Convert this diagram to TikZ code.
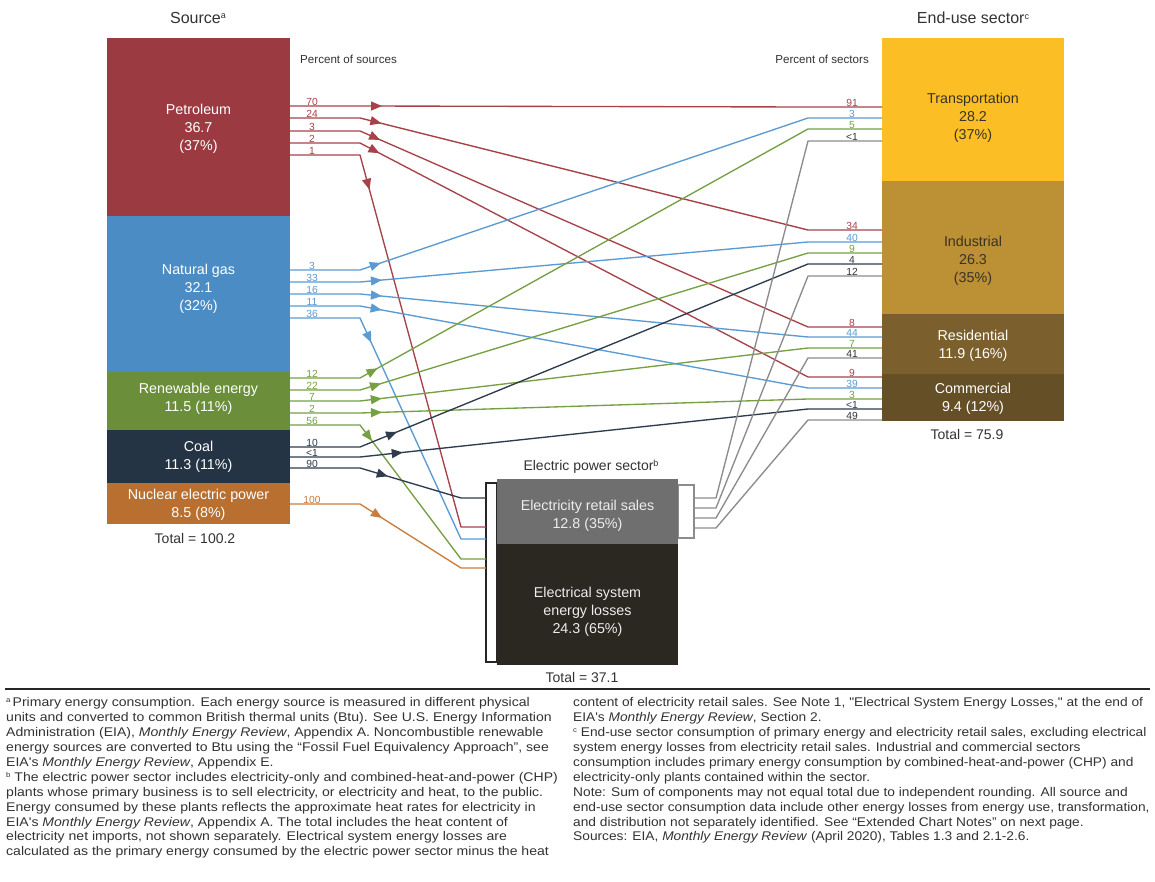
\documentclass[tikz,border=0pt]{standalone}
\usepackage{fontspec}
\setmainfont{Liberation Sans}
\newfontfamily\footfont[FakeStretch=1.09]{Liberation Sans}
\newfontfamily\footfontL[FakeStretch=1.115]{Liberation Sans}
\usetikzlibrary{arrows.meta,decorations.markings}
\definecolor{petc}{HTML}{9B3B41}
\definecolor{petl}{HTML}{A6434A}
\definecolor{gasc}{HTML}{4A8CC3}
\definecolor{gasl}{HTML}{5A9BD3}
\definecolor{renc}{HTML}{6A8E3A}
\definecolor{renl}{HTML}{76A042}
\definecolor{coalc}{HTML}{253444}
\definecolor{coall}{HTML}{2E3C4E}
\definecolor{nucc}{HTML}{B86F2F}
\definecolor{nucl}{HTML}{C97D3C}
\definecolor{grayl}{HTML}{8C8C8C}
\definecolor{trac}{HTML}{FBBF25}
\definecolor{indc}{HTML}{BC9034}
\definecolor{resc}{HTML}{7B602D}
\definecolor{comc}{HTML}{654F27}
\definecolor{retc}{HTML}{6F6F6F}
\definecolor{losc}{HTML}{2B2721}
\definecolor{txtd}{HTML}{333333}
\definecolor{txtb}{HTML}{3A3226}
\newcommand{\mysup}[1]{\raisebox{0.55ex}{\fontsize{9}{9}\selectfont #1}}
\newcommand{\fnsup}[1]{\raisebox{0.6ex}{\fontsize{7}{7}\selectfont #1}}
\tikzset{
  flow/.style={line width=1.35pt, line join=round},
  tipat/.style={postaction={decorate,decoration={markings,mark=at position #1pt with {\arrow{Triangle[length=11pt,width=9pt]}}}}},
  box/.style={draw=none, inner sep=0pt, outer sep=0pt, anchor=north west},
  boxtxt/.style={align=center, font=\fontsize{14.3}{18}\selectfont, inner sep=0pt},
  title/.style={font=\fontsize{16}{18}\selectfont, text=txtd, inner sep=0pt},
  small/.style={font=\fontsize{11.6}{14}\selectfont, text=txtd, inner sep=0pt},
  tot/.style={font=\fontsize{14}{16}\selectfont, text=txtd, inner sep=0pt},
  slab/.style={anchor=south, inner sep=0.6pt, font=\fontsize{10.3}{10.3}\selectfont},
  foot/.style={anchor=north west, align=left, inner sep=0pt, text=txtd, font=\footfont\fontsize{12.6}{14.9}\selectfont}
}
\begin{document}
\begin{tikzpicture}[x=1pt,y=-1pt]
\useasboundingbox[fill=white] (0,0) rectangle (1155,882);

% ---------- bend columns ----------
\coordinate (bendL) at (360,0);
\coordinate (bendR) at (808,0);
\coordinate (bendE) at (461,0);
\coordinate (bendG) at (716,0);

% ---------- source ports ----------
\coordinate (sP1) at (290,106); \coordinate (sP2) at (290,118); \coordinate (sP3) at (290,131);
\coordinate (sP4) at (290,143); \coordinate (sP5) at (290,155);
\coordinate (sG1) at (290,270); \coordinate (sG2) at (290,282); \coordinate (sG3) at (290,294);
\coordinate (sG4) at (290,306); \coordinate (sG5) at (290,318);
\coordinate (sR1) at (290,378); \coordinate (sR2) at (290,390); \coordinate (sR3) at (290,401);
\coordinate (sR4) at (290,413); \coordinate (sR5) at (290,425);
\coordinate (sC1) at (290,447); \coordinate (sC2) at (290,457); \coordinate (sC3) at (290,468);
\coordinate (sN1) at (290,504);

% ---------- target ports ----------
\coordinate (tT1) at (882,107); \coordinate (tT2) at (882,118); \coordinate (tT3) at (882,129); \coordinate (tT4) at (882,141);
\coordinate (tI1) at (882,230); \coordinate (tI2) at (882,242); \coordinate (tI3) at (882,253); \coordinate (tI4) at (882,264); \coordinate (tI5) at (882,276);
\coordinate (tR1) at (882,327); \coordinate (tR2) at (882,337); \coordinate (tR3) at (882,348); \coordinate (tR4) at (882,358);
\coordinate (tC1) at (882,377); \coordinate (tC2) at (882,388); \coordinate (tC3) at (882,399); \coordinate (tC4) at (882,409); \coordinate (tC5) at (882,420);

% ---------- electric ports ----------
\coordinate (eC) at (486,498); \coordinate (eP) at (486,527); \coordinate (eG) at (486,539);
\coordinate (eR) at (486,559); \coordinate (eN) at (486,568);
\coordinate (x1) at (694,498); \coordinate (x2) at (694,508); \coordinate (x3) at (694,518); \coordinate (x4) at (694,528);

% ---------- titles ----------
\node[title] (srcT) at (198,18) {Source\mysup{a}};
\node[title] (endT) at (973,18) {End-use sector\mysup{c}};
\node[title, font=\fontsize{14}{16}\selectfont] (elT) at (591,467) {Electric power sector\mysup{b}};
\node[small, anchor=west] (pcs) at (300,59) {Percent of sources};
\node[small, anchor=east] (pct) at (869,59) {Percent of sectors};

% ---------- source boxes ----------
\node[box, fill=petc, minimum width=183pt, minimum height=178pt] (pet) at (107,38) {};
\node[box, fill=gasc, minimum width=183pt, minimum height=156pt] (gas) at (107,216) {};
\node[box, fill=renc, minimum width=183pt, minimum height=58pt] (ren) at (107,372) {};
\node[box, fill=coalc, minimum width=183pt, minimum height=53pt] (coal) at (107,430) {};
\node[box, fill=nucc, minimum width=183pt, minimum height=41pt] (nuc) at (107,483) {};
\node[boxtxt, text=white] (petL) at (198.5,129) {Petroleum\\36.7\\(37\%)};
\node[boxtxt, text=white] (gasL) at (198.5,289) {Natural gas\\32.1\\(32\%)};
\node[boxtxt, text=white] (renL) at (198.5,399) {Renewable energy\\11.5 (11\%)};
\node[boxtxt, text=white] (coalL) at (198.5,457) {Coal\\11.3 (11\%)};
\node[boxtxt, text=white] (nucL) at (198.5,504.5) {Nuclear electric power\\8.5 (8\%)};
\node[tot] (srcTot) at (195,538) {Total = 100.2};

% ---------- end-use boxes ----------
\node[box, fill=trac, minimum width=182pt, minimum height=143pt] (tra) at (882,38) {};
\node[box, fill=indc, minimum width=182pt, minimum height=133pt] (ind) at (882,181) {};
\node[box, fill=resc, minimum width=182pt, minimum height=60pt] (res) at (882,314) {};
\node[box, fill=comc, minimum width=182pt, minimum height=47pt] (com) at (882,374) {};
\node[boxtxt, text=txtb] (traL) at (973,117.5) {Transportation\\28.2\\(37\%)};
\node[boxtxt, text=txtb] (indL) at (973,261) {Industrial\\26.3\\(35\%)};
\node[boxtxt, text=white] (resL) at (973,345.5) {Residential\\11.9 (16\%)};
\node[boxtxt, text=white] (comL) at (973,398.5) {Commercial\\9.4 (12\%)};
\node[tot] (endTot) at (967,434) {Total = 75.9};

% ---------- electric power sector ----------
\node[box, draw=black!85, line width=1.2pt, fill=white, minimum width=11pt, minimum height=179pt] (lbr) at (486,483) {};
\node[box, draw=grayl, line width=1.2pt, fill=white, minimum width=16pt, minimum height=53pt] (rbr) at (678,485) {};
\node[box, fill=retc, minimum width=181pt, minimum height=65pt] (ret) at (497,479) {};
\node[box, fill=losc, minimum width=181pt, minimum height=121pt] (los) at (497,544) {};
\node[boxtxt, text=white!93!black] (retL) at (587.5,516) {Electricity retail sales\\12.8 (35\%)};
\node[boxtxt, text=white!93!black] (losL) at (587.5,611.5) {Electrical system\\energy losses\\24.3 (65\%)};
\node[tot] (elTot) at (582,677) {Total = 37.1};

% ---------- flows: petroleum ----------
\draw[flow, petl, tipat=92] (sP1) -- (bendL |- sP1) -- (bendR |- tT1) -- (tT1);
\draw[flow, petl, tipat=92] (sP2) -- (bendL |- sP2) -- (bendR |- tI1) -- (tI1);
\draw[flow, petl, tipat=92] (sP3) -- (bendL |- sP3) -- (bendR |- tR1) -- (tR1);
\draw[flow, petl, tipat=92] (sP4) -- (bendL |- sP4) -- (bendR |- tC1) -- (tC1);
\draw[flow, petl, tipat=106] (sP5) -- (bendL |- sP5) -- (bendE |- eP) -- (eP);
% ---------- flows: natural gas ----------
\draw[flow, gasl, tipat=92] (sG1) -- (bendL |- sG1) -- (bendR |- tT2) -- (tT2);
\draw[flow, gasl, tipat=92] (sG2) -- (bendL |- sG2) -- (bendR |- tI2) -- (tI2);
\draw[flow, gasl, tipat=92] (sG3) -- (bendL |- sG3) -- (bendR |- tR2) -- (tR2);
\draw[flow, gasl, tipat=92] (sG4) -- (bendL |- sG4) -- (bendR |- tC2) -- (tC2);
\draw[flow, gasl, tipat=97] (sG5) -- (bendL |- sG5) -- (bendE |- eG) -- (eG);
% ---------- flows: renewable ----------
\draw[flow, renl, tipat=90] (sR1) -- (bendL |- sR1) -- (bendR |- tT3) -- (tT3);
\draw[flow, renl, tipat=92] (sR2) -- (bendL |- sR2) -- (bendR |- tI3) -- (tI3);
\draw[flow, renl, tipat=92] (sR3) -- (bendL |- sR3) -- (bendR |- tR3) -- (tR3);
\draw[flow, renl, tipat=92] (sR4) -- (bendL |- sR4) -- (bendR |- tC3) -- (tC3);
\draw[flow, renl, tipat=90] (sR5) -- (bendL |- sR5) -- (bendE |- eR) -- (eR);
% ---------- flows: coal ----------
\draw[flow, coall, tipat=110] (sC1) -- (bendL |- sC1) -- (bendR |- tI4) -- (tI4);
\draw[flow, coall, tipat=113] (sC2) -- (bendL |- sC2) -- (bendR |- tC4) -- (tC4);
\draw[flow, coall, tipat=99] (sC3) -- (bendL |- sC3) -- (bendE |- eC) -- (eC);
% ---------- flows: nuclear ----------
\draw[flow, nucl, tipat=96] (sN1) -- (bendL |- sN1) -- (bendE |- eN) -- (eN);
% ---------- flows: electricity retail sales ----------
\draw[flow, grayl] (x1) -- (bendG |- x1) -- (bendR |- tT4) -- (tT4);
\draw[flow, grayl] (x2) -- (bendG |- x2) -- (bendR |- tI5) -- (tI5);
\draw[flow, grayl] (x3) -- (bendG |- x3) -- (bendR |- tR4) -- (tR4);
\draw[flow, grayl] (x4) -- (bendG |- x4) -- (bendR |- tC5) -- (tC5);

% ---------- source-side labels ----------
\node[slab, text=petl] (lP1) at (312,106) {70};
\node[slab, text=petl] (lP2) at (312,118) {24};
\node[slab, text=petl] (lP3) at (312,131) {3};
\node[slab, text=petl] (lP4) at (312,143) {2};
\node[slab, text=petl] (lP5) at (312,155) {1};
\node[slab, text=gasl] (lG1) at (312,270) {3};
\node[slab, text=gasl] (lG2) at (312,282) {33};
\node[slab, text=gasl] (lG3) at (312,294) {16};
\node[slab, text=gasl] (lG4) at (312,306) {11};
\node[slab, text=gasl] (lG5) at (312,318) {36};
\node[slab, text=renl] (lR1) at (312,378) {12};
\node[slab, text=renl] (lR2) at (312,390) {22};
\node[slab, text=renl] (lR3) at (312,401) {7};
\node[slab, text=renl] (lR4) at (312,413) {2};
\node[slab, text=renl] (lR5) at (312,425) {56};
\node[slab, text=coall] (lC1) at (312,447) {10};
\node[slab, text=coall] (lC2) at (312,457) {<1};
\node[slab, text=coall] (lC3) at (312,468) {90};
\node[slab, text=nucl] (lN1) at (312,504) {100};

% ---------- sector-side labels ----------
\node[slab, text=petl] (rT1) at (852,107) {91};
\node[slab, text=gasl] (rT2) at (852,118) {3};
\node[slab, text=renl] (rT3) at (852,129) {5};
\node[slab, text=txtd] (rT4) at (852,141) {<1};
\node[slab, text=petl] (rI1) at (852,230) {34};
\node[slab, text=gasl] (rI2) at (852,242) {40};
\node[slab, text=renl] (rI3) at (852,253) {9};
\node[slab, text=coall] (rI4) at (852,264) {4};
\node[slab, text=txtd] (rI5) at (852,276) {12};
\node[slab, text=petl] (rR1) at (852,327) {8};
\node[slab, text=gasl] (rR2) at (852,337) {44};
\node[slab, text=renl] (rR3) at (852,348) {7};
\node[slab, text=txtd] (rR4) at (852,358) {41};
\node[slab, text=petl] (rC1) at (852,377) {9};
\node[slab, text=gasl] (rC2) at (852,388) {39};
\node[slab, text=renl] (rC3) at (852,399) {3};
\node[slab, text=coall] (rC4) at (852,409) {<1};
\node[slab, text=txtd] (rC5) at (852,420) {49};

% ---------- footnotes ----------
\coordinate (ruleL) at (5,689);
\coordinate (ruleR) at (1150,689);
\draw[line width=2.5pt, color=black!85] (ruleL) -- (ruleR);
\node[foot, font=\footfontL\fontsize{12.6}{14.9}\selectfont] (fnL) at (6,697.5) {%
\fnsup{a}\,Primary energy consumption. Each energy source is measured in different physical\\
units and converted to common British thermal units (Btu). See U.S. Energy Information\\
Administration (EIA), \textit{Monthly Energy Review}, Appendix A. Noncombustible renewable\\
energy sources are converted to Btu using the “Fossil Fuel Equivalency Approach”, see\\
EIA's \textit{Monthly Energy Review}, Appendix E.\\
\fnsup{b} The electric power sector includes electricity-only and combined-heat-and-power (CHP)\\
plants whose primary business is to sell electricity, or electricity and heat, to the public.\\
Energy consumed by these plants reflects the approximate heat rates for electricity in\\
EIA's \textit{Monthly Energy Review}, Appendix A. The total includes the heat content of\\
electricity net imports, not shown separately. Electrical system energy losses are\\
calculated as the primary energy consumed by the electric power sector minus the heat};
\node[foot] (fnR) at (573,697.5) {%
content of electricity retail sales. See Note 1, "Electrical System Energy Losses," at the end of\\
EIA's \textit{Monthly Energy Review}, Section 2.\\
\fnsup{c} End-use sector consumption of primary energy and electricity retail sales, excluding electrical\\
system energy losses from electricity retail sales. Industrial and commercial sectors\\
consumption includes primary energy consumption by combined-heat-and-power (CHP) and\\
electricity-only plants contained within the sector.\\
Note: Sum of components may not equal total due to independent rounding. All source and\\
end-use sector consumption data include other energy losses from energy use, transformation,\\
and distribution not separately identified. See “Extended Chart Notes” on next page.\\
Sources: EIA, \textit{Monthly Energy Review} (April 2020), Tables 1.3 and 2.1-2.6.};
\end{tikzpicture}
\end{document}
